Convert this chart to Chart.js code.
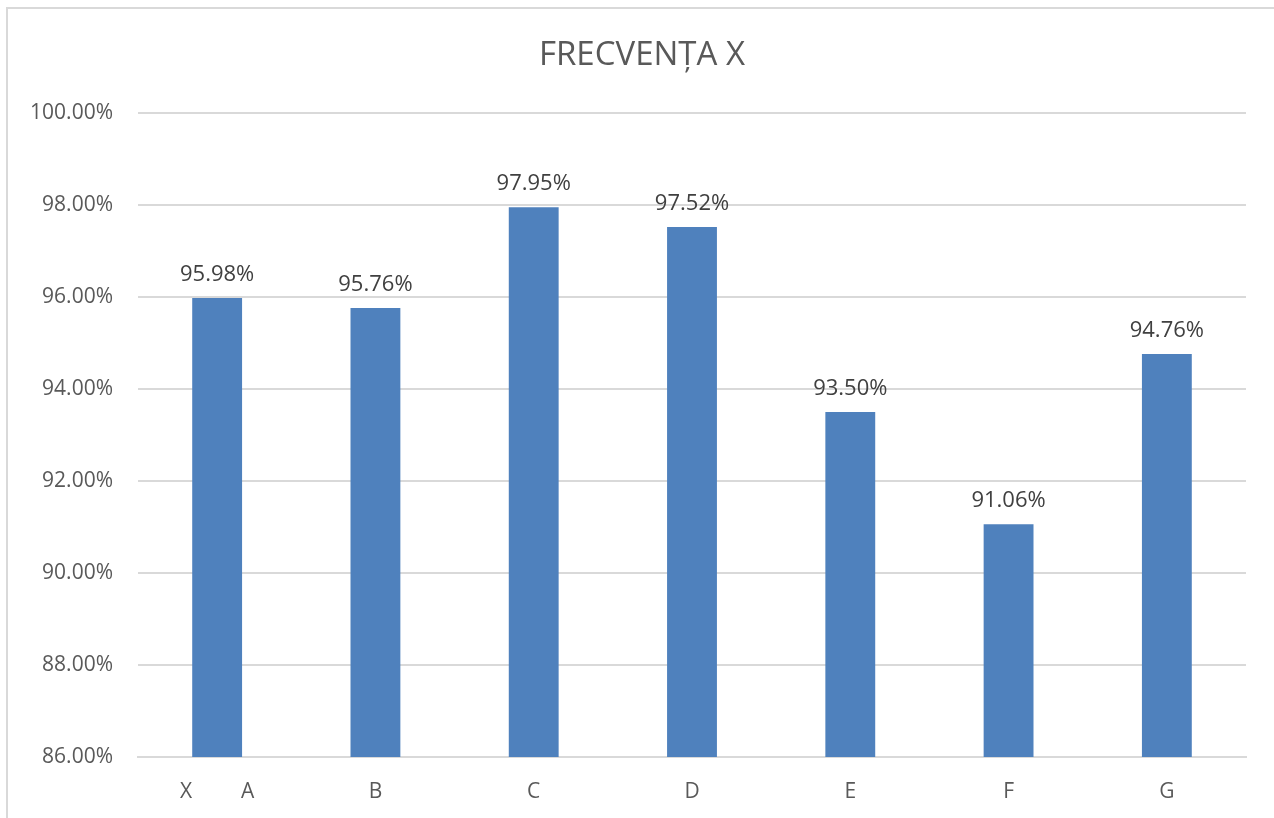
<!DOCTYPE html>
<html>
<head>
<meta charset="utf-8">
<script src="https://cdn.jsdelivr.net/npm/chart.js@4/dist/chart.umd.min.js"></script>
<style>
  html, body { margin: 0; padding: 0; background: #fff; overflow: hidden; }
  #wrap { position: relative; width: 1274px; height: 818px; }
  #frame { position: absolute; left: 6px; top: 7px; width: 1280px; height: 830px; border: 2px solid #d9d9d9; box-sizing: border-box; }
  canvas { position: absolute; left: 0; top: 0; }
</style>
</head>
<body>
<div id="wrap">
  <div id="frame"></div>
  <canvas id="myChart" width="1274" height="818"></canvas>
</div>
<script>
// date grafic
const labels = ['X         A', 'B', 'C', 'D', 'E', 'F', 'G'];
const values = [95.98, 95.76, 97.95, 97.52, 93.50, 91.06, 94.76];
const yMin = 86;
const yMax = 100;
const yStep = 2;

const fontName = '"Open Sans", "Liberation Sans", sans-serif';

// etichete deasupra barelor
const barLabels = {
    id: 'barLabels',
    afterLayout(chart) {
        // titlul e centrat pe tot cadrul, nu doar pe zona din stanga
        chart.titleBlock.left = 38;
    },
    afterDatasetsDraw(chart) {
        let ctx = chart.ctx;
        let meta = chart.getDatasetMeta(0);
        ctx.save();
        ctx.font = '22px ' + fontName;
        ctx.fillStyle = '#404040';
        ctx.textAlign = 'center';
        ctx.textBaseline = 'alphabetic';
        meta.data.forEach(function (bar, i) {
            ctx.fillText(values[i].toFixed(2) + '%', bar.x, bar.y - 17);
        });
        ctx.restore();
    }
};

let ctx = document.getElementById('myChart').getContext('2d');
let chart = new Chart(ctx, {
    type: 'bar',
    data: {
        labels: labels,
        datasets: [{
            data: values,
            backgroundColor: '#4f81bd',
            borderWidth: 0,
            barPercentage: 0.315,
            categoryPercentage: 1
        }]
    },
    options: {
        responsive: false,
        animation: false,
        layout: { padding: { left: 0, right: 28, top: 0, bottom: 0 } },
        plugins: {
            legend: { display: false },
            tooltip: { enabled: false },
            title: {
                display: true,
                text: 'FRECVENȚA X',
                color: '#595959',
                font: { family: fontName, size: 33, weight: 'normal' },
                padding: { top: 36, bottom: 37.4 }
            }
        },
        scales: {
            x: {
                grid: { display: false, drawTicks: false },
                border: { display: true, color: '#d9d9d9', width: 2 },
                ticks: { color: '#595959', font: { family: fontName, size: 21 }, padding: 22, maxRotation: 0, autoSkip: false },
                afterFit: function (scale) { scale.height = 61; }
            },
            y: {
                min: yMin,
                max: yMax,
                grid: { color: '#d9d9d9', lineWidth: 2, drawTicks: false },
                border: { display: false },
                ticks: {
                    stepSize: yStep,
                    color: '#595959',
                    font: { family: fontName, size: 21 },
                    padding: 25,
                    callback: function (v) { return v.toFixed(2) + '%'; }
                },
                afterFit: function (scale) { scale.width = 138; }
            }
        }
    },
    plugins: [barLabels]
});
</script>
</body>
</html>
